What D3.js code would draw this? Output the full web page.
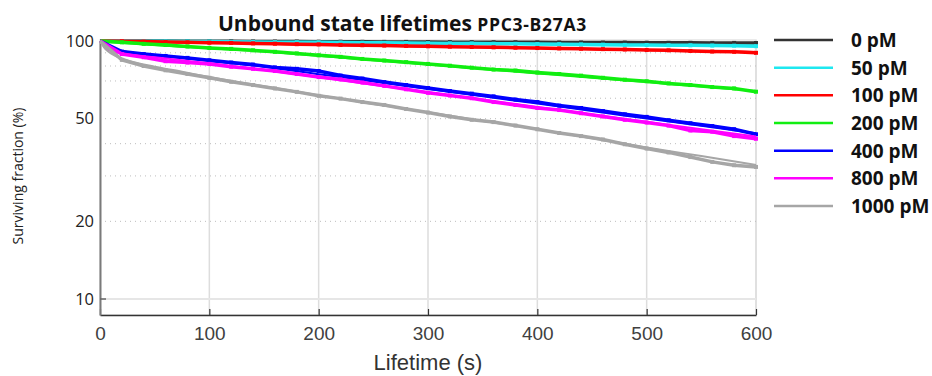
<!DOCTYPE html>
<html>
<head>
<meta charset="utf-8">
<script src="https://cdn.jsdelivr.net/npm/d3@7"></script>
<style>
    body { margin: 0; background: #fff; }
    svg { display: block; }
</style>
</head>
<body>
<div id="main"></div>
<script>
var ctx = {
    w: 932,
    h: 376,
    left: 100,
    right: 756,
    top: 41,
    bottom: 315,
};

// concentrations (legend order)
const labels = ["0 pM", "50 pM", "100 pM", "200 pM", "400 pM", "800 pM", "1000 pM"];
const colors = ["#333333", "#1ee8f0", "#ff0000", "#11ee11", "#0000ff", "#ff00ff", "#a6a6a6"];

// measured survival (%) every 20 s
const dataTimes = [0, 20, 40, 60, 80, 100, 120, 140, 160, 180, 200, 220, 240, 260, 280, 300,
    320, 340, 360, 380, 400, 420, 440, 460, 480, 500, 520, 540, 560, 580, 600];
const data0 = [100, 100, 99.9, 99.9, 99.8, 99.7, 99.7, 99.6, 99.5, 99.5, 99.4, 99.4, 99.3, 99.2, 99.2, 99.1,
    99, 99, 98.9, 98.9, 98.8, 98.7, 98.7, 98.6, 98.6, 98.5, 98.4, 98.4, 98.3, 98.3, 98.2];
const data50 = [100, 99.9, 99.8, 99.7, 99.6, 99.5, 99.3, 99.2, 99, 98.9, 98.8, 98.6, 98.5, 98.4, 98.2, 98,
    97.9, 97.8, 97.6, 97.5, 97.3, 97.2, 97, 96.8, 96.6, 96.5, 96.3, 96.2, 96, 95.9, 95.5];
const data100 = [100, 99.8, 99.5, 99.2, 98.8, 98.5, 98.3, 97.9, 97.6, 97.2, 97, 96.6, 96.3, 96, 95.7, 95.4,
    95.1, 94.8, 94.5, 94.2, 93.9, 93.6, 93.3, 93, 92.7, 92.3, 92, 91.5, 91, 90.8, 90];
const data200 = [100, 98.8, 97.5, 96.5, 95.2, 94, 93.2, 92, 90.8, 89.5, 88, 86.8, 85.2, 84, 82.8, 81.5,
    80.2, 78.8, 77.5, 76.8, 75.5, 74.5, 73.4, 72, 70.8, 69.8, 68.5, 67.5, 66.3, 65.5, 63.6];
const data400 = [100, 91, 89, 87.5, 86, 84.2, 82.5, 81, 79, 78, 76.5, 73.5, 71.5, 69.3, 67.5, 65.7,
    64, 62.5, 61, 59.3, 58, 56.2, 55, 53.5, 52, 50.8, 49.3, 48, 46.8, 45.5, 43.5];
const data800 = [100, 89, 86.5, 83.5, 82.5, 81.5, 79.5, 78, 76.5, 74.5, 72.5, 71, 69, 67, 65, 63,
    61.5, 60, 58, 56.5, 55, 54, 52.5, 51, 49.5, 48.3, 47, 45, 44.5, 42.8, 41.8];
const data1000 = [100, 84.5, 80, 77, 74.5, 72, 69.5, 67.5, 65.5, 63.5, 61.3, 59.8, 58, 56.5, 54.5, 52.8,
    51, 49.5, 48.5, 47, 45.5, 44, 42.8, 41.5, 39.8, 38.3, 37, 35.5, 34, 33, 32.5];

// fitted curves (%)
const fitTimes = [0, 5, 10, 20, 30, 50, 75, 100, 150, 200, 250, 300, 350, 400, 450, 500, 550, 600];
const fit0 = [100, 100, 100, 99.9, 99.9, 99.8, 99.8, 99.7, 99.5, 99.4, 99.2, 99.1, 98.9, 98.8, 98.6, 98.5, 98.3, 98.2];
const fit50 = [100, 100, 99.9, 99.9, 99.8, 99.6, 99.5, 99.3, 98.9, 98.6, 98.2, 97.9, 97.5, 97.2, 96.8, 96.5, 96.1, 95.8];
const fit100 = [100, 99.9, 99.8, 99.7, 99.5, 99.2, 98.8, 98.4, 97.6, 96.8, 96, 95.3, 94.5, 93.7, 92.9, 92.2, 91.4, 90.7];
const fit200 = [100, 99.3, 98.9, 98.3, 97.7, 96.5, 95.1, 93.7, 91, 87.6, 84.2, 81, 77.9, 74.9, 72, 69.3, 66.6, 64];
const fit400 = [100, 96, 94, 91.5, 90, 88, 86, 83.7, 79.5, 74.4, 69.7, 65.2, 61.1, 57.2, 53.5, 50.1, 46.9, 43.9];
const fit800 = [100, 94, 91.5, 89.5, 88.3, 86.5, 84.2, 82, 77.2, 72.3, 67.7, 63.3, 59.3, 55.5, 51.9, 48.6, 45.5, 42.6];
const fit1000 = [100, 93, 89.5, 85.5, 83, 79.5, 76, 72.5, 66.8, 61.6, 57, 53, 49, 45.5, 42, 38.7, 35.8, 33.1];

const xTicks = [0, 100, 200, 300, 400, 500, 600];
const yLabelTicks = [10, 20, 50, 100];
const yMinorGrid = [20, 30, 40, 50, 60, 70, 80, 90];

var createViz = function(){
    var svgEl = d3.select("#main").append("svg")
        .attr("width", ctx.w)
        .attr("height", ctx.h);

    var x = d3.scaleLinear().domain([0, 600]).range([ctx.left, ctx.right]);
    var y = d3.scaleLog().domain([8.67, 100]).range([ctx.bottom, ctx.top]);

    // frame (light) + grid
    var gridG = svgEl.append("g").attr("id", "grid");
    gridG.append("rect")
        .attr("x", ctx.left).attr("y", ctx.top - 1)
        .attr("width", ctx.right - ctx.left).attr("height", ctx.bottom - ctx.top + 1)
        .attr("fill", "none").attr("stroke", "#e3e3e3").attr("stroke-width", 1.5);
    gridG.selectAll("line.vgrid")
        .data(xTicks.slice(1))
        .enter().append("line")
        .attr("x1", d => x(d)).attr("x2", d => x(d))
        .attr("y1", ctx.top - 1).attr("y2", ctx.bottom)
        .attr("stroke", "#dddddd").attr("stroke-width", 1.5);
    gridG.selectAll("line.hgrid")
        .data(yMinorGrid)
        .enter().append("line")
        .attr("x1", ctx.left).attr("x2", ctx.right)
        .attr("y1", d => y(d)).attr("y2", d => y(d))
        .attr("stroke", "#bdbdbd").attr("stroke-width", 1)
        .attr("stroke-dasharray", "1,4");
    gridG.append("line")
        .attr("x1", ctx.left).attr("x2", ctx.right)
        .attr("y1", y(10)).attr("y2", y(10))
        .attr("stroke", "#e6e6e6").attr("stroke-width", 2);

    // axes
    var xAxis = d3.axisBottom(x).tickValues(xTicks).tickSize(-6).tickPadding(12).tickSizeOuter(0);
    var xg = svgEl.append("g")
        .attr("transform", "translate(0," + ctx.bottom + ")")
        .call(xAxis);
    xg.select(".domain").attr("stroke", "#333").attr("stroke-width", 1.5);
    xg.selectAll(".tick line").attr("stroke", "#333").attr("stroke-width", 1.2);
    xg.selectAll(".tick text")
        .attr("font-family", "'Liberation Sans', Arial, sans-serif")
        .attr("font-size", 19).attr("fill", "#404040");

    var yAxis = d3.axisLeft(y).tickValues(yLabelTicks).tickFormat(d3.format("d"))
        .tickSize(0).tickPadding(6).tickSizeOuter(0);
    var yg = svgEl.append("g")
        .attr("transform", "translate(" + ctx.left + ",0)")
        .call(yAxis);
    yg.select(".domain").attr("stroke", "#7a7a7a").attr("stroke-width", 2);
    yg.selectAll(".tick text")
        .attr("font-family", "'Open Sans', sans-serif")
        .attr("font-size", 16.5).attr("fill", "#222");
    yg.append("line")
        .attr("x1", 0).attr("x2", 6).attr("y1", y(10)).attr("y2", y(10))
        .attr("stroke", "#666").attr("stroke-width", 1.5);

    // series
    var dataList = [data0, data50, data100, data200, data400, data800, data1000];
    var fitList = [fit0, fit50, fit100, fit200, fit400, fit800, fit1000];
    var dataLine = d3.line()
        .x(d => x(d[0])).y(d => y(d[1]));
    var fitLine = d3.line()
        .x(d => x(d[0])).y(d => y(d[1]))
        .curve(d3.curveMonotoneX);
    var seriesG = svgEl.append("g").attr("id", "series");
    labels.forEach(function(lab, i){
        var pts = dataTimes.map((t, k) => [t, dataList[i][k]]);
        var g = seriesG.append("g").attr("class", "serie");
        g.append("path")
            .attr("d", dataLine(pts))
            .attr("fill", "none")
            .attr("stroke", colors[i])
            .attr("stroke-width", 3.5);
        g.selectAll("rect")
            .data(pts.slice(1))
            .enter().append("rect")
            .attr("x", d => x(d[0]) - 2).attr("y", d => y(d[1]) - 2)
            .attr("width", 4).attr("height", 4)
            .attr("fill", colors[i]);
        g.append("path")
            .attr("d", fitLine(fitTimes.map((t, k) => [t, fitList[i][k]])))
            .attr("fill", "none")
            .attr("stroke", colors[i])
            .attr("stroke-width", 2);
    });

    // title
    var title = svgEl.append("text")
        .attr("x", 218).attr("y", 31)
        .attr("font-family", "'Open Sans', sans-serif")
        .attr("font-weight", "bold")
        .attr("fill", "#111");
    title.append("tspan").attr("font-size", 21).text("Unbound state lifetimes ");
    title.append("tspan").attr("font-size", 17.5).attr("letter-spacing", 0.7).text("PPC3-B27A3");

    // axis labels
    svgEl.append("text")
        .attr("x", (ctx.left + ctx.right) / 2).attr("y", 370)
        .attr("text-anchor", "middle")
        .attr("font-family", "'Liberation Sans', Arial, sans-serif")
        .attr("font-size", 22).attr("fill", "#333")
        .text("Lifetime (s)");
    svgEl.append("text")
        .attr("transform", "translate(23,176) rotate(-90)")
        .attr("text-anchor", "middle")
        .attr("font-family", "'Open Sans', sans-serif")
        .attr("font-size", 14).attr("fill", "#222")
        .text("Surviving fraction (%)");

    // legend
    var legY = d3.scalePoint().domain(labels).range([40, 206]);
    var legG = svgEl.append("g").attr("id", "legend");
    var items = legG.selectAll("g")
        .data(labels)
        .enter().append("g")
        .attr("transform", d => "translate(0," + legY(d) + ")");
    items.append("line")
        .attr("x1", 774).attr("x2", 833)
        .attr("stroke", (d, i) => colors[i])
        .attr("stroke-width", 2.5);
    items.append("text")
        .attr("x", 851).attr("y", 7)
        .attr("font-family", "'Open Sans', sans-serif")
        .attr("font-weight", "bold")
        .attr("font-size", 19).attr("fill", "#111")
        .text(d => d);
};

createViz();
</script>
</body>
</html>
